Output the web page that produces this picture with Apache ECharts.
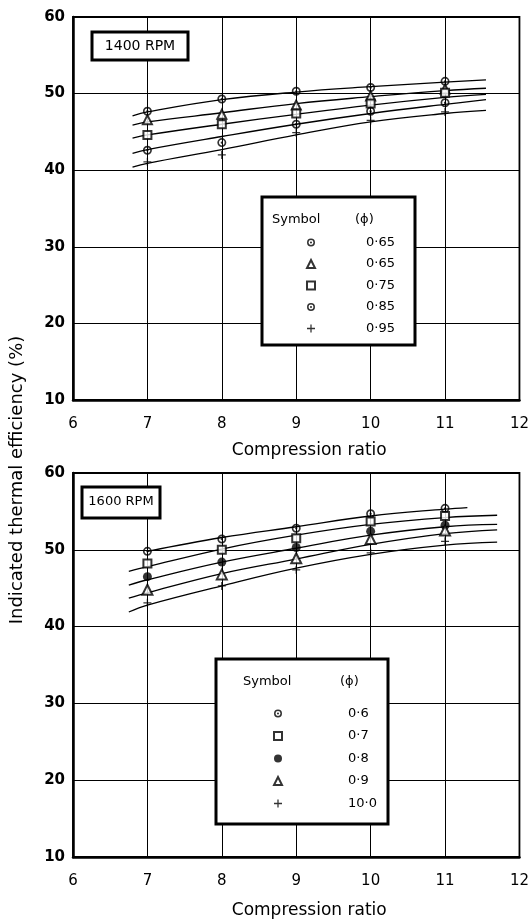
<!DOCTYPE html>
<html>
<head>
<meta charset="utf-8">
<script src="https://cdn.jsdelivr.net/npm/echarts@6/dist/echarts.min.js"></script>
<style>html,body{margin:0;padding:0;background:#fff;}#c{width:532px;height:924px;}</style>
</head>
<body>
<div id="c"></div>
<script>
// ---------- data ----------
const compressionRatio = [7, 8, 9, 10, 11];
const xTicks = [6, 7, 8, 9, 10, 11, 12];
const yTicks = [10, 20, 30, 40, 50, 60];

// 1400 RPM measured points
const top065c = [47.7, 49.3, 50.3, 50.8, 51.6];
const top065t = [46.6, 47.3, 48.5, 49.7, 50.6];
const top075s = [44.6, 46.0, 47.4, 48.7, 50.1];
const top085d = [42.6, 43.6, 46.0, 47.7, 48.8];
const top095p = [41.1, 42.0, 44.9, 46.5, 47.6];
const topLabels = ['0·65', '0·65', '0·75', '0·85', '0·95'];

// 1400 RPM fitted curves
const topFitX = [6.8, 7, 8, 9, 10, 11, 11.55];
const topFit1 = [47.1, 47.6, 49.2, 50.2, 50.9, 51.5, 51.8];
const topFit2 = [45.9, 46.3, 47.5, 48.7, 49.6, 50.4, 50.7];
const topFit3 = [44.2, 44.6, 46.0, 47.3, 48.5, 49.5, 49.9];
const topFit4 = [42.2, 42.7, 44.4, 46.0, 47.4, 48.6, 49.2];
const topFit5 = [40.4, 40.9, 42.7, 44.6, 46.3, 47.4, 47.8];

// 1600 RPM measured points
const bot06c = [49.8, 51.4, 52.8, 54.7, 55.4];
const bot07s = [48.2, 50.0, 51.5, 53.7, 54.4];
const bot08d = [46.5, 48.4, 50.3, 52.4, 53.2];
const bot09t = [44.8, 46.8, 48.9, 51.4, 52.5];
const bot10p = [43.1, 45.3, 47.4, 49.6, 51.1];
const botLabels = ['0·6', '0·7', '0·8', '0·9', '10·0'];

// 1600 RPM fitted curves
const botFit1X = [7, 8, 9, 10, 11, 11.3];
const botFit1 = [49.8, 51.6, 53.0, 54.4, 55.3, 55.5];
const botFitX = [6.75, 7, 8, 9, 10, 11, 11.7];
const botFit2 = [47.2, 47.8, 50.1, 51.9, 53.3, 54.2, 54.5];
const botFit3 = [45.4, 46.1, 48.4, 50.2, 51.9, 53.0, 53.3];
const botFit4 = [43.7, 44.4, 46.9, 48.8, 50.7, 52.1, 52.6];
const botFit5 = [41.9, 42.8, 45.3, 47.6, 49.4, 50.6, 51.0];

// ---------- symbols ----------
const SYM_DOTCIRCLE = 'path://M5,0A5,5 0 1,1 5,10A5,5 0 1,1 5,0Z M5,1.9A3.1,3.1 0 1,0 5,8.1A3.1,3.1 0 1,0 5,1.9Z M5,3.7A1.3,1.3 0 1,1 5,6.3A1.3,1.3 0 1,1 5,3.7Z';
const SYM_PLUS = 'path://M4.2,0H5.8V4.2H10V5.8H5.8V10H4.2V5.8H0V4.2H4.2Z';

const FONT = 'DejaVu Sans';
const pairs = (xs, ys) => xs.map((x, i) => [x, ys[i]]);

const labelMap = {};
function scatter(name, label, xs, ys, symbol, size, idx) {
  labelMap[name] = label;
  const empty = symbol.indexOf('empty') === 0;
  return {
    type: 'scatter', name: name, xAxisIndex: idx, yAxisIndex: idx,
    data: pairs(xs, ys), symbol: symbol, symbolSize: size,
    itemStyle: { color: '#000', borderColor: '#000', borderWidth: empty ? 1.5 : 0 },
    z: 5, silent: true
  };
}
function fit(xs, ys, idx) {
  return {
    type: 'line', xAxisIndex: idx, yAxisIndex: idx, data: pairs(xs, ys),
    smooth: 0.4, showSymbol: false, symbol: 'none', silent: true,
    lineStyle: { color: '#000', width: 1.3 }, z: 3
  };
}

const series = [
  scatter('T1', topLabels[0], compressionRatio, top065c, SYM_DOTCIRCLE, 9, 0),
  scatter('T2', topLabels[1], compressionRatio, top065t, 'emptyTriangle', 9, 0),
  scatter('T3', topLabels[2], compressionRatio, top075s, 'emptyRect', 8, 0),
  scatter('T4', topLabels[3], compressionRatio, top085d, SYM_DOTCIRCLE, 9, 0),
  scatter('T5', topLabels[4], compressionRatio, top095p, SYM_PLUS, 8, 0),
  fit(topFitX, topFit1, 0), fit(topFitX, topFit2, 0), fit(topFitX, topFit3, 0),
  fit(topFitX, topFit4, 0), fit(topFitX, topFit5, 0),
  scatter('B1', botLabels[0], compressionRatio, bot06c, SYM_DOTCIRCLE, 9, 1),
  scatter('B2', botLabels[1], compressionRatio, bot07s, 'emptyRect', 8, 1),
  scatter('B3', botLabels[2], compressionRatio, bot08d, 'circle', 9, 1),
  scatter('B4', botLabels[3], compressionRatio, bot09t, 'emptyTriangle', 10, 1),
  scatter('B5', botLabels[4], compressionRatio, bot10p, SYM_PLUS, 8, 1),
  fit(botFit1X, botFit1, 1), fit(botFitX, botFit2, 1), fit(botFitX, botFit3, 1),
  fit(botFitX, botFit4, 1), fit(botFitX, botFit5, 1)
];

function xAxis(idx, nameGap) {
  return {
    type: 'value', gridIndex: idx, min: xTicks[0], max: xTicks[xTicks.length - 1], interval: 1,
    axisLine: { show: true, lineStyle: { color: '#000', width: 2.5 } },
    axisTick: { show: false },
    axisLabel: { color: '#000', fontSize: 15, fontFamily: FONT, margin: 17 },
    splitLine: { show: true, lineStyle: { color: '#000', width: 1 } },
    name: 'Compression ratio', nameLocation: 'middle', nameGap: nameGap,
    nameTextStyle: { color: '#000', fontSize: 17, fontFamily: FONT, padding: [0, 0, 0, 26] }
  };
}
function yAxis(idx) {
  return {
    type: 'value', gridIndex: idx, min: yTicks[0], max: yTicks[yTicks.length - 1], interval: 10,
    axisLine: { show: true, lineStyle: { color: '#000', width: 2.5 } },
    axisTick: { show: false },
    axisLabel: { color: '#000', fontSize: 15, fontWeight: 'bold', fontFamily: FONT, margin: 8 },
    splitLine: { show: true, lineStyle: { color: '#000', width: 1 } }
  };
}
function legend(names, left, top, padLeft, gap) {
  return {
    data: names, orient: 'vertical', left: left, top: top,
    itemWidth: 8, itemHeight: 8, itemGap: gap, selectedMode: false, z: 60,
    formatter: n => labelMap[n],
    textStyle: { color: '#000', fontSize: 13, fontFamily: FONT, padding: [0, 0, 0, padLeft] }
  };
}

const chart = echarts.init(document.getElementById('c'), null, { renderer: 'canvas' });
chart.setOption({
  backgroundColor: '#fff',
  animation: false,
  grid: [
    { left: 73, top: 17, width: 450, height: 383, show: true, borderColor: '#000', borderWidth: 1.8 },
    { left: 73, top: 473, width: 450, height: 384, show: true, borderColor: '#000', borderWidth: 1.8 }
  ],
  xAxis: [xAxis(0, 42), xAxis(1, 45)],
  yAxis: [yAxis(0), yAxis(1)],
  legend: [
    legend(['T1', 'T2', 'T3', 'T4', 'T5'], 301, 231, 46, 8.5),
    legend(['B1', 'B2', 'B3', 'B4', 'B5'], 268, 702, 61, 9.5)
  ],
  graphic: [
    { type: 'rect', z: 50, shape: { x: 262, y: 197, width: 153, height: 148 },
      style: { fill: '#fff', stroke: '#000', lineWidth: 3 } },
    { type: 'text', z: 51, x: 272, y: 220, style: { text: 'Symbol', font: '13px "DejaVu Sans"', fill: '#000', textVerticalAlign: 'middle' } },
    { type: 'text', z: 51, x: 355, y: 220, style: { text: '(ϕ)', font: '13px "DejaVu Sans"', fill: '#000', textVerticalAlign: 'middle' } },
    { type: 'rect', z: 50, shape: { x: 216, y: 659, width: 172, height: 165 },
      style: { fill: '#fff', stroke: '#000', lineWidth: 3 } },
    { type: 'text', z: 51, x: 243, y: 682, style: { text: 'Symbol', font: '13px "DejaVu Sans"', fill: '#000', textVerticalAlign: 'middle' } },
    { type: 'text', z: 51, x: 340, y: 682, style: { text: '(ϕ)', font: '13px "DejaVu Sans"', fill: '#000', textVerticalAlign: 'middle' } },
    { type: 'rect', z: 50, shape: { x: 92, y: 32, width: 96, height: 28 },
      style: { fill: '#fff', stroke: '#000', lineWidth: 3 } },
    { type: 'text', z: 51, x: 140, y: 46, style: { text: '1400 RPM', font: '14px "DejaVu Sans"', fill: '#000', textAlign: 'center', textVerticalAlign: 'middle' } },
    { type: 'rect', z: 50, shape: { x: 82, y: 487, width: 78, height: 31 },
      style: { fill: '#fff', stroke: '#000', lineWidth: 3 } },
    { type: 'text', z: 51, x: 121, y: 502, style: { text: '1600 RPM', font: '13px "DejaVu Sans"', fill: '#000', textAlign: 'center', textVerticalAlign: 'middle' } },
    { type: 'text', z: 51, x: 17, y: 480, rotation: Math.PI / 2,
      style: { text: 'Indicated thermal efficiency (%)', font: '18px "DejaVu Sans"', fill: '#000', textAlign: 'center', textVerticalAlign: 'middle' } }
  ],
  series: series
});
</script>
</body>
</html>
